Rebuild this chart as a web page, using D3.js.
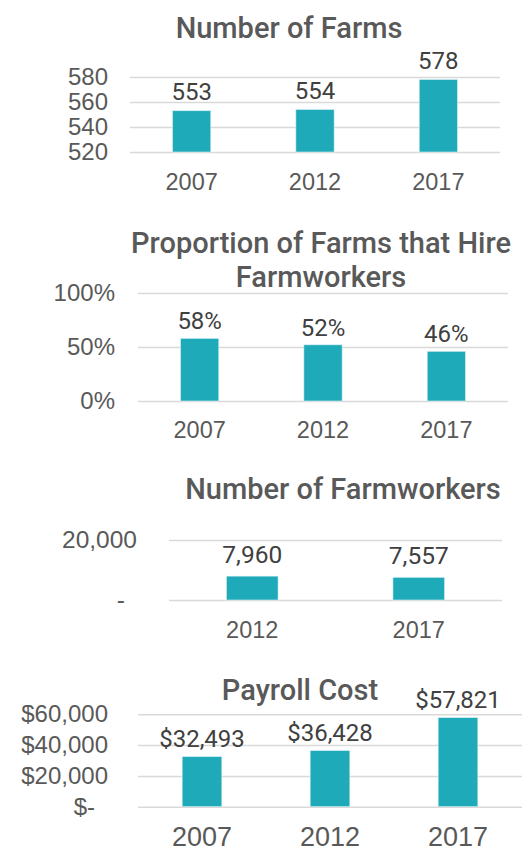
<!DOCTYPE html>
<html>
<head>
<meta charset="utf-8">
<script src="https://cdn.jsdelivr.net/npm/d3@7"></script>
<style>
  html, body { margin: 0; padding: 0; background: #fff; }
  svg { display: block; font-family: Roboto, "Noto Sans", sans-serif; }
</style>
</head>
<body>
<svg id="chart" width="523" height="852"></svg>
<script>
// values
const years = ["2007", "2012", "2017"];
const farmCounts = [553, 554, 578];
const farmTicks = [520, 540, 560, 580];

const hireShare = [0.58, 0.52, 0.46];
const hireTicks = [0, 0.5, 1];

const workerYears = ["2012", "2017"];
const workerCounts = [7960, 7557];
const workerTicks = [0, 20000];

const payroll = [32493, 36428, 57821];
const payrollTicks = [0, 20000, 40000, 60000];

const BAR = "#1eaab9";
const GRID = "#d9d9d9";
const AXIS_TEXT = "#595959";
const LABEL_TEXT = "#404040";

const svg = d3.select("#chart");
const comma = d3.format(",");

// one small bar chart per panel
function drawPanel(p) {
  const g = svg.append("g");

  const x = d3.scaleBand()
    .domain(p.cats)
    .range([p.left, p.right])
    .paddingInner(0.69)
    .paddingOuter(0.345);

  const y = d3.scaleLinear()
    .domain(p.domain)
    .range([p.bottom, p.top]);

  // y axis + gridlines
  const yAxis = g.append("g")
    .attr("transform", `translate(${p.left},0)`)
    .call(d3.axisLeft(y)
      .tickValues(p.ticks)
      .tickFormat(p.tickFmt)
      .tickSize(-(p.right - p.left))
      .tickPadding(p.tickPad));
  yAxis.select(".domain").remove();
  yAxis.selectAll(".tick line").attr("stroke", GRID).attr("stroke-width", 1.5);
  yAxis.selectAll(".tick text")
    .attr("fill", AXIS_TEXT)
    .attr("font-size", p.tickSize || 24)
    .attr("dx", d => (d === 0 && p.zeroShift) ? -p.zeroShift : 0);

  // x axis (category labels only)
  const xAxis = g.append("g")
    .attr("transform", `translate(0,${p.bottom})`)
    .call(d3.axisBottom(x).tickSize(0));
  xAxis.select(".domain").remove();
  xAxis.selectAll(".tick text")
    .attr("fill", AXIS_TEXT)
    .attr("font-size", p.yearSize || 23.5)
    .attr("dy", null)
    .attr("y", p.yearOffset);

  // bars
  g.append("g")
    .selectAll("rect")
    .data(p.values)
    .join("rect")
    .attr("x", (d, i) => x(p.cats[i]))
    .attr("width", x.bandwidth())
    .attr("y", d => y(d))
    .attr("height", d => y(p.domain[0]) - y(d))
    .attr("fill", BAR)
    .attr("stroke", "#d6f0f3")
    .attr("stroke-width", 0.6);

  // value labels
  g.append("g")
    .selectAll("text")
    .data(p.values)
    .join("text")
    .attr("x", (d, i) => x(p.cats[i]) + x.bandwidth() / 2)
    .attr("y", d => y(d) - p.labelGap)
    .attr("text-anchor", "middle")
    .attr("fill", LABEL_TEXT)
    .attr("font-size", p.labelSize || 24)
    .text(p.labelFmt);

  // title
  g.append("g")
    .selectAll("text")
    .data(p.title)
    .join("text")
    .attr("x", p.titleX)
    .attr("y", (d, i) => p.titleY + i * 34)
    .attr("text-anchor", "middle")
    .attr("fill", AXIS_TEXT)
    .attr("font-size", 29)
    .attr("font-weight", 500)
    .text(d => d);
}

drawPanel({
  title: ["Number of Farms"], titleX: 289, titleY: 38,
  cats: years, values: farmCounts,
  domain: [520, 580], ticks: farmTicks,
  left: 130, right: 500, top: 77, bottom: 152,
  tickPad: 22, tickFmt: d3.format("d"),
  yearOffset: 38, labelGap: 11,
  labelFmt: d => d
});

drawPanel({
  title: ["Proportion of Farms that Hire", "Farmworkers"], titleX: 321, titleY: 253,
  cats: years, values: hireShare,
  domain: [0, 1], ticks: hireTicks,
  left: 138, right: 508, top: 293, bottom: 401,
  tickPad: 23, tickFmt: d3.format(".0%"),
  yearOffset: 37, labelGap: 9,
  labelFmt: d3.format(".0%")
});

drawPanel({
  title: ["Number of Farmworkers"], titleX: 343, titleY: 499,
  cats: workerYears, values: workerCounts,
  domain: [0, 20000], ticks: workerTicks,
  left: 169, right: 502, top: 540, bottom: 600,
  tickPad: 32, tickFmt: d => d === 0 ? "-" : comma(d), zeroShift: 12,
  tickSize: 24.5, labelSize: 24.5,
  yearOffset: 38, labelGap: 13,
  labelFmt: comma
});

drawPanel({
  title: ["Payroll Cost"], titleX: 300, titleY: 700,
  cats: years, values: payroll,
  domain: [0, 60000], ticks: payrollTicks,
  left: 138, right: 522, top: 714.3, bottom: 806.7,
  tickPad: 30, tickFmt: d => d === 0 ? "$-" : "$" + comma(d), zeroShift: 13,
  yearSize: 27, yearOffset: 39, labelGap: 10,
  labelFmt: d => "$" + comma(d)
});
</script>
</body>
</html>
